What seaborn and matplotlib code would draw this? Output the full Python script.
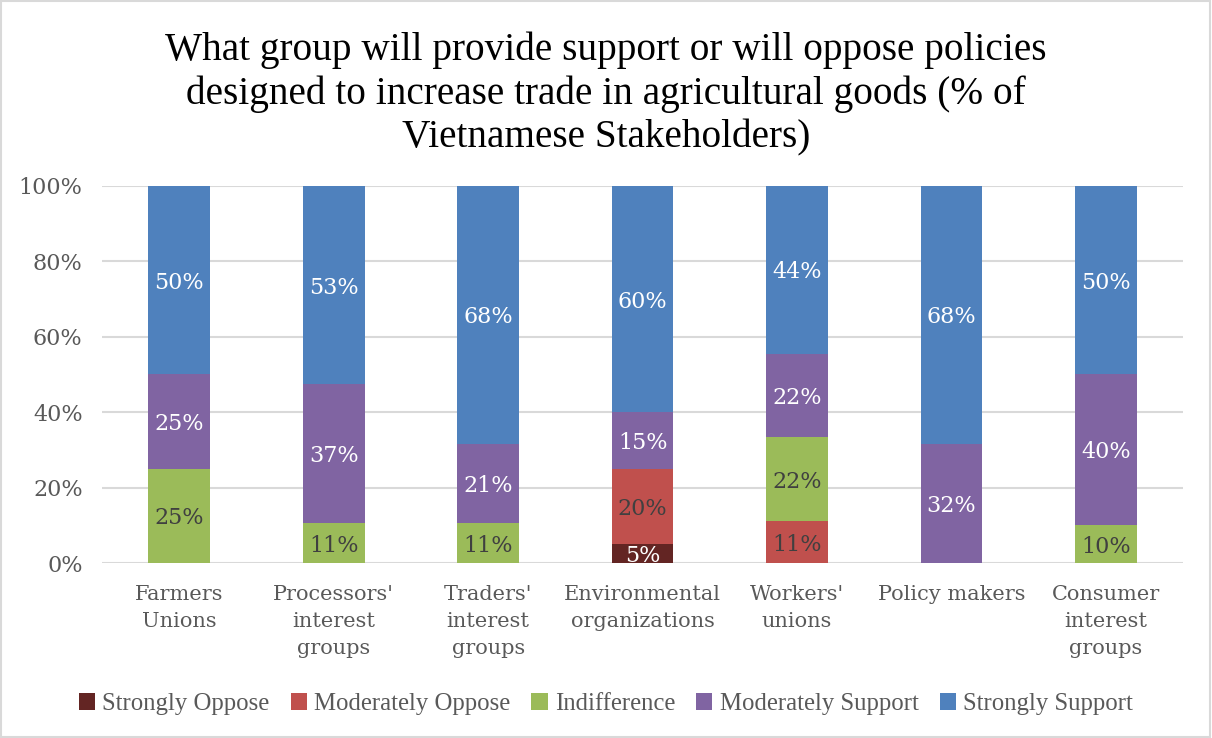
import numpy as np
import pandas as pd
import matplotlib
matplotlib.use("Agg")
import matplotlib.pyplot as plt
from matplotlib.patches import Rectangle, Patch
import seaborn as sns

# Stakeholder groups and response counts per attitude
groups = ["Farmers\nUnions", "Processors'\ninterest\ngroups", "Traders'\ninterest\ngroups",
          "Environmental\norganizations", "Workers'\nunions", "Policy makers",
          "Consumer\ninterest\ngroups"]
series = ["Strongly Oppose", "Moderately Oppose", "Indifference",
          "Moderately Support", "Strongly Support"]
strongly_oppose = [0, 0, 0, 1, 0, 0, 0]
moderately_oppose = [0, 0, 0, 4, 1, 0, 0]
indifference = [2, 2, 2, 0, 2, 0, 1]
moderately_support = [2, 7, 4, 3, 2, 6, 4]
strongly_support = [4, 10, 13, 12, 4, 13, 5]

colors = ["#632523", "#C0504D", "#9BBB59", "#8064A2", "#4F81BD"]
label_colors = ["white", "#404040", "#404040", "white", "white"]

counts = np.array([strongly_oppose, moderately_oppose, indifference,
                   moderately_support, strongly_support], dtype=float)
pct = counts / counts.sum(axis=0) * 100
cum = np.cumsum(pct, axis=0)

sns.set_theme(style="white")
serif = ["DejaVu Serif"]
title_font = ["Liberation Serif", "DejaVu Serif"]
plt.rcParams["font.family"] = serif

fig = plt.figure(figsize=(12.12, 7.38), dpi=100)
ax = fig.add_axes([0.0842, 0.2371, 0.892, 0.511])

# Stacked columns: draw cumulative totals from the top series down
for i in range(len(series) - 1, -1, -1):
    df = pd.DataFrame({"group": groups, "value": cum[i]})
    sns.barplot(data=df, x="group", y="value", color=colors[i], width=0.4,
                saturation=1, ax=ax, zorder=3, linewidth=0)

# Segment labels
for i in range(len(series)):
    for j in range(len(groups)):
        v = pct[i, j]
        if v <= 0:
            continue
        ax.text(j, cum[i, j] - v / 2, f"{v:.0f}%", ha="center", va="center_baseline",
                fontsize=16, color=label_colors[i], zorder=4)

ax.set_xlim(-0.5, len(groups) - 0.5)
ax.set_ylim(0, 100)
ax.set_yticks(np.arange(0, 101, 20))
ax.set_yticklabels([f"{t}%" for t in range(0, 101, 20)])
ax.yaxis.grid(True, color="#D9D9D9", linewidth=1.5, zorder=0)
ax.set_axisbelow(True)
for s in ax.spines.values():
    s.set_visible(False)
ax.tick_params(axis="y", length=0, pad=14, labelsize=16, labelcolor="#595959")
ax.tick_params(axis="x", length=0, pad=16, labelsize=15, labelcolor="#595959")
for lbl in ax.get_xticklabels():
    lbl.set_linespacing(1.52)
    lbl.set_va("top")
ax.set_xlabel("")
ax.set_ylabel("")

fig.text(0.5, 0.873,
         "What group will provide support or will oppose policies\n"
         "designed to increase trade in agricultural goods (% of\n"
         "Vietnamese Stakeholders)",
         ha="center", va="center", fontsize=28.3, color="black",
         family=title_font, linespacing=1.22)

handles = [Patch(facecolor=c, edgecolor="none") for c in colors]
leg = fig.legend(handles, series, loc="center", bbox_to_anchor=(0.5, 0.046),
                 ncol=5, frameon=False, handlelength=0.65, handleheight=0.65,
                 handletextpad=0.3, columnspacing=0.85,
                 prop={"family": title_font, "size": 17.8})
for t in leg.get_texts():
    t.set_color("#595959")

fig.patches.append(Rectangle((0.001, 0.001), 0.997, 0.997, transform=fig.transFigure,
                             fill=False, edgecolor="#D9D9D9", linewidth=1.5))

fig.savefig("out.png", dpi=100)
